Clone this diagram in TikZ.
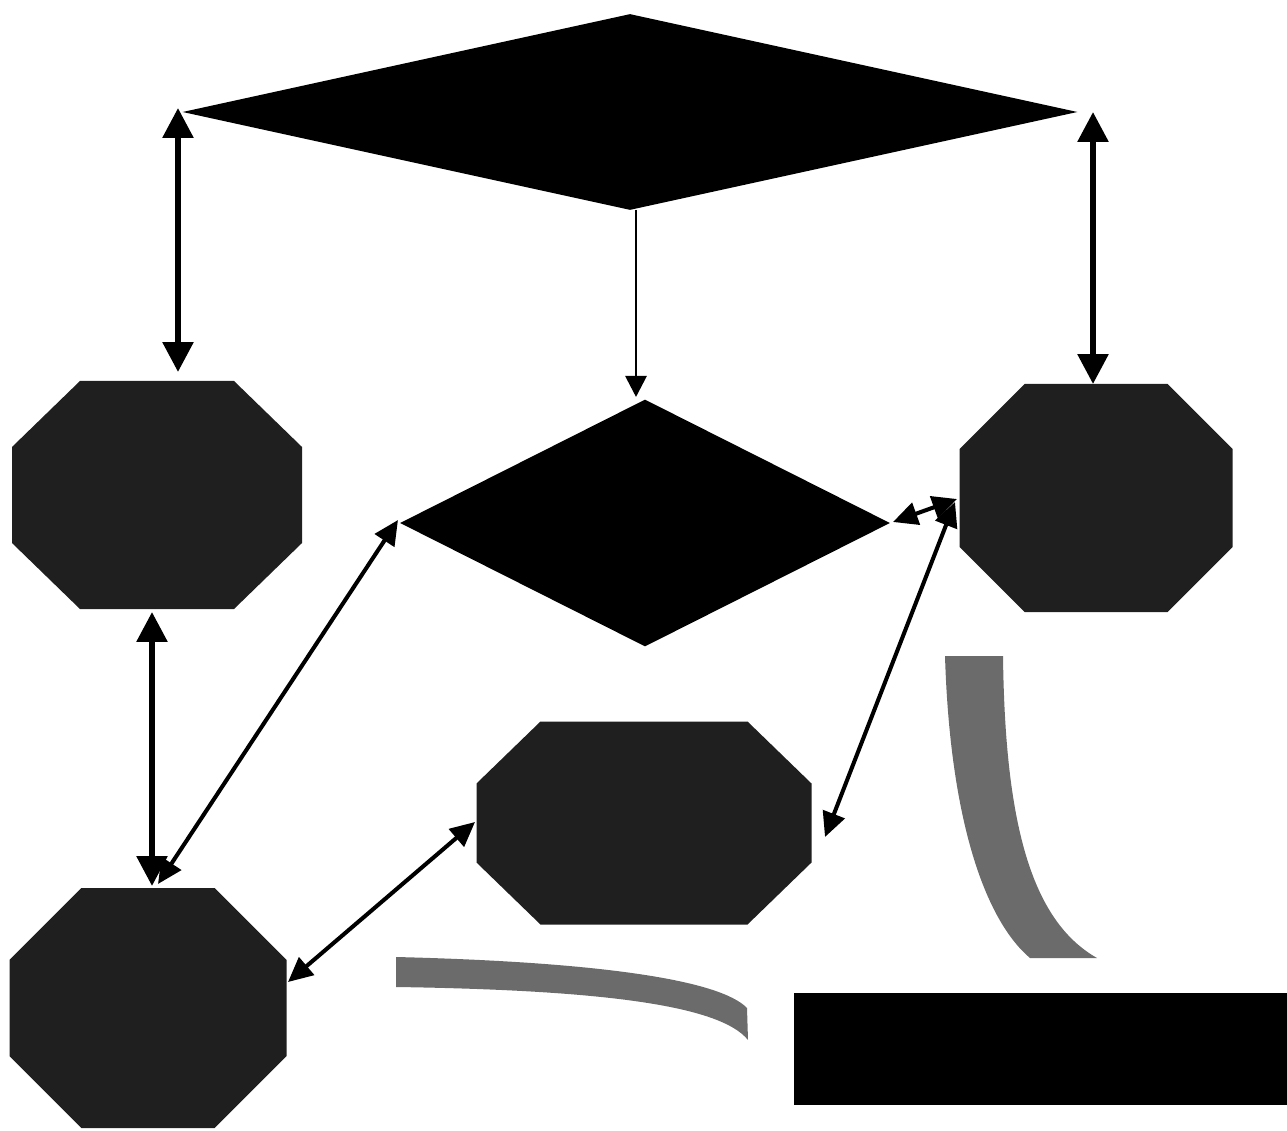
\documentclass[tikz,border=0pt]{standalone}
\usetikzlibrary{shapes.geometric,arrows.meta}
\newcommand\pxu{0.02cm}
\colorlet{octfill}{black!88}
\tikzset{
  dia/.style={diamond, fill=black, draw=none, inner sep=0pt, aspect=1},
  oct/.style 2 args={rectangle, draw=none, inner sep=0pt, path picture={
    \fill[octfill] ([xshift=#1]path picture bounding box.north west)
      -- ([xshift=-#1]path picture bounding box.north east)
      -- ([yshift=-#2]path picture bounding box.north east)
      -- ([yshift=#2]path picture bounding box.south east)
      -- ([xshift=-#1]path picture bounding box.south east)
      -- ([xshift=#1]path picture bounding box.south west)
      -- ([yshift=#2]path picture bounding box.south west)
      -- ([yshift=-#2]path picture bounding box.north west) -- cycle;}},
  strip/.style={fill=black!58, draw=none},
  bigarr/.style={line width=3.3pt, {Triangle[length=17pt,width=17pt]}-{Triangle[length=17pt,width=17pt]}},
  midarr/.style={line width=2.3pt, {Triangle[length=14pt,width=13pt]}-{Triangle[length=14pt,width=13pt]}},
  thinarr/.style={line width=1.6pt, -{Triangle[length=12pt,width=12pt]}},
}
\begin{document}
\begin{tikzpicture}[x=0.02cm, y=-0.02cm]
\useasboundingbox (0,0) rectangle (1287,1131);
% diamonds
\node[dia, minimum width=895*\pxu, minimum height=196*\pxu] (top) at (630,112) {};
\node[dia, minimum width=490*\pxu, minimum height=247*\pxu] (mid) at (645,523) {};
% octagons
\node[oct={1.36cm}{1.32cm}, minimum width=290*\pxu, minimum height=228*\pxu] (lt) at (157,495) {};
\node[oct={1.30cm}{1.30cm}, minimum width=273*\pxu, minimum height=228*\pxu] (rt) at (1096,498) {};
\node[oct={1.28cm}{1.24cm}, minimum width=335*\pxu, minimum height=203*\pxu] (mo) at (644,823) {};
\node[oct={1.44cm}{1.44cm}, minimum width=277*\pxu, minimum height=240*\pxu] (lb) at (148,1008) {};
% black bar
\node[fill=black, draw=none, inner sep=0pt, minimum width=493*\pxu, minimum height=112*\pxu] (bar) at (1040.5,1049) {};
% gray curved strips
\fill[strip] (945,656) -- (1003,656) .. controls (1005,820) and (1030,920) .. (1097,958)
  -- (1030,958) .. controls (985,920) and (950,820) .. (945,656) -- cycle;
\fill[strip] (396,957) .. controls (600,962) and (720,980) .. (747,1008)
  -- (748,1040) .. controls (720,1005) and (600,990) .. (396,987) -- cycle;
% connector endpoints
\coordinate (a1s) at (178,108); \coordinate (a1e) at (178,372);
\coordinate (a2s) at (636,210); \coordinate (a2e) at (636,397);
\coordinate (a3s) at (1093,112); \coordinate (a3e) at (1093,384);
\coordinate (a4s) at (152,612); \coordinate (a4e) at (152,886);
\coordinate (a5s) at (158,884); \coordinate (a5e) at (398,520);
\coordinate (a6s) at (288,982); \coordinate (a6e) at (475,822);
\coordinate (a7s) at (893,522); \coordinate (a7e) at (957,499);
\coordinate (a8s) at (955,502); \coordinate (a8e) at (825,837);
% connectors
\draw[bigarr] (a1s) -- (a1e);
\draw[thinarr] (a2s) -- (a2e);
\draw[bigarr] (a3s) -- (a3e);
\draw[bigarr] (a4s) -- (a4e);
\draw[midarr] (a5s) -- (a5e);
\draw[midarr] (a6s) -- (a6e);
\draw[midarr] (a7s) -- (a7e);
\draw[midarr] (a8s) -- (a8e);
\end{tikzpicture}
\end{document}
